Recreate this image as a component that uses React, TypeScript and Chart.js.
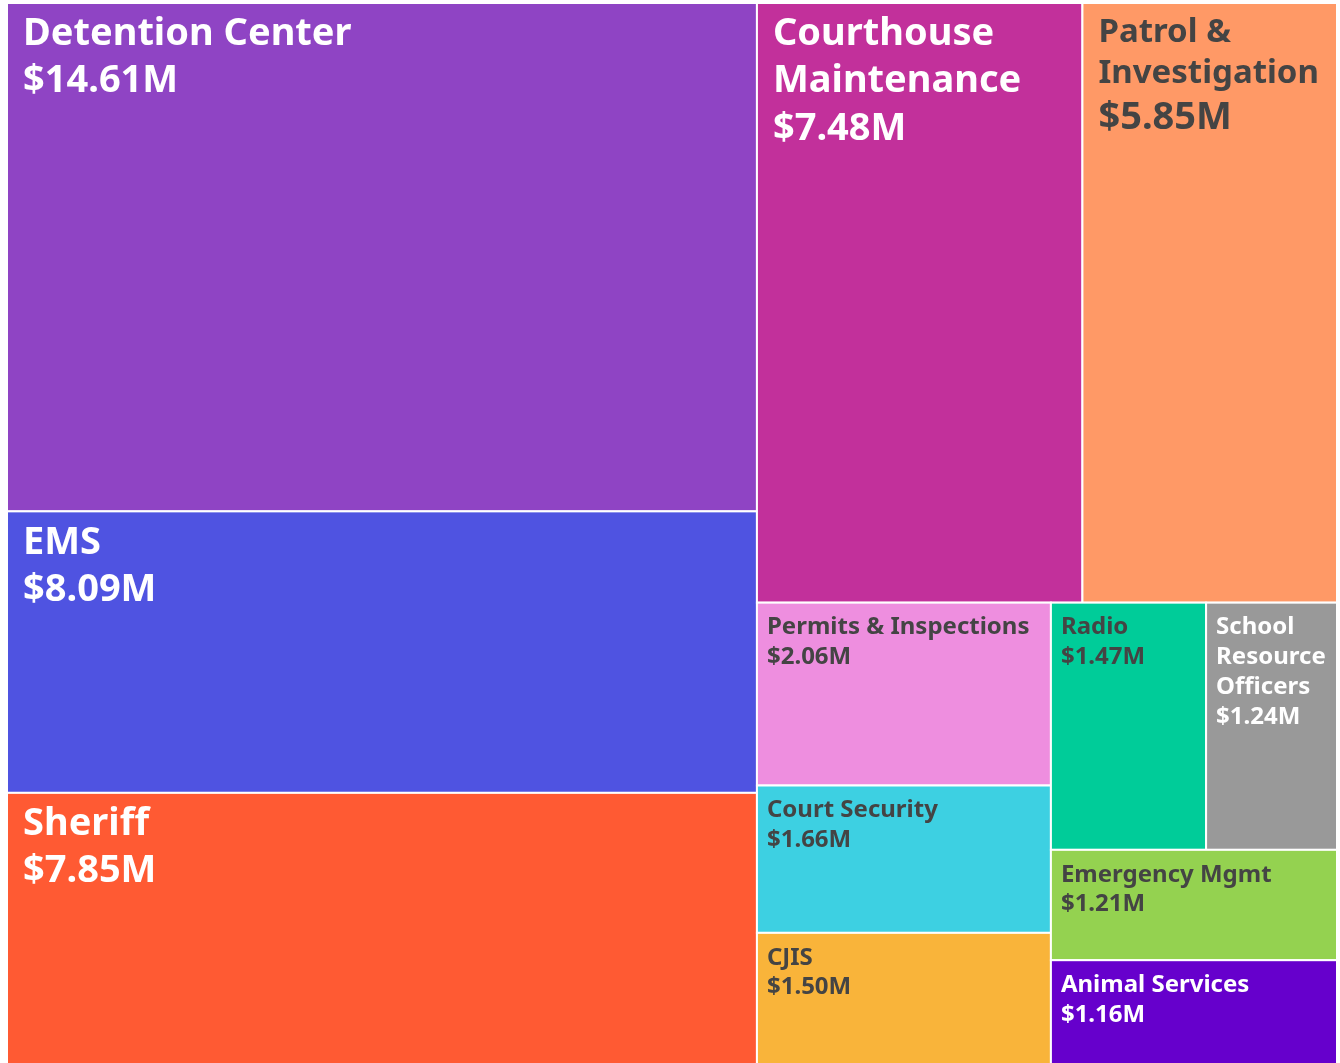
import React, { useEffect, useRef } from "react";
import { Chart, registerables } from "chart.js";

Chart.register(...registerables);

// ---- Data ----
const categories = [
  "Detention Center",
  "EMS",
  "Sheriff",
  "Courthouse Maintenance",
  "Patrol & Investigation",
  "Permits & Inspections",
  "Court Security",
  "CJIS",
  "Radio",
  "School Resource Officers",
  "Emergency Mgmt",
  "Animal Services",
];
const budgetMillions = [14.61, 8.09, 7.85, 7.48, 5.85, 2.06, 1.66, 1.5, 1.47, 1.24, 1.21, 1.16];
const valueLabels = budgetMillions.map((v) => `$${v.toFixed(2)}M`);

// ---- Styles ----
const tileColors = [
  "#8f44c4",
  "#4f53e1",
  "#ff5a33",
  "#c2309b",
  "#ff9966",
  "#ee8edf",
  "#3dd0e2",
  "#f9b43a",
  "#00cc99",
  "#999999",
  "#94d250",
  "#6600cc",
];
const textColors = [
  "#ffffff",
  "#ffffff",
  "#ffffff",
  "#ffffff",
  "#444444",
  "#444444",
  "#444444",
  "#444444",
  "#444444",
  "#ffffff",
  "#444444",
  "#ffffff",
];

const DOMAIN_W = 1330;
const DOMAIN_H = 1063;
const FONT_FAMILY = "'Comic Sans MS', 'Noto Sans', sans-serif";

type Rect = { x0: number; y0: number; x1: number; y1: number };

// d3-style squarified treemap (golden ratio)
function squarify(values: number[], W: number, H: number): Rect[] {
  const ratio = (1 + Math.sqrt(5)) / 2;
  const out: Rect[] = new Array(values.length);
  let x0 = 0, y0 = 0, x1 = W, y1 = H;
  let value = values.reduce((a, b) => a + b, 0);
  let i0 = 0, i1 = 0;
  const n = values.length;
  while (i0 < n) {
    const dx = x1 - x0, dy = y1 - y0;
    let sumValue = values[i1++];
    let minValue = sumValue, maxValue = sumValue;
    const alpha = Math.max(dy / dx, dx / dy) / (value * ratio);
    let beta = sumValue * sumValue * alpha;
    let minRatio = Math.max(maxValue / beta, beta / minValue);
    for (; i1 < n; ++i1) {
      const nv = values[i1];
      sumValue += nv;
      if (nv < minValue) minValue = nv;
      if (nv > maxValue) maxValue = nv;
      beta = sumValue * sumValue * alpha;
      const newRatio = Math.max(maxValue / beta, beta / minValue);
      if (newRatio > minRatio) {
        sumValue -= nv;
        break;
      }
      minRatio = newRatio;
    }
    const dice = dx < dy;
    if (dice) {
      const yy = y0 + (dy * sumValue) / value;
      let cx = x0;
      const k = (x1 - x0) / sumValue;
      for (let i = i0; i < i1; i++) {
        const w = values[i] * k;
        out[i] = { x0: cx, y0: y0, x1: cx + w, y1: yy };
        cx += w;
      }
      y0 = yy;
    } else {
      const xx = x0 + (dx * sumValue) / value;
      let cy = y0;
      const k = (y1 - y0) / sumValue;
      for (let i = i0; i < i1; i++) {
        const h = values[i] * k;
        out[i] = { x0: x0, y0: cy, x1: xx, y1: cy + h };
        cy += h;
      }
      x0 = xx;
    }
    value -= sumValue;
    i0 = i1;
  }
  return out;
}

function wrapWords(ctx: CanvasRenderingContext2D, text: string, maxW: number): string[] {
  const words = text.split(" ");
  const lines: string[] = [];
  let cur = "";
  for (const w of words) {
    const test = cur ? cur + " " + w : w;
    if (ctx.measureText(test).width <= maxW || !cur) cur = test;
    else {
      lines.push(cur);
      cur = w;
    }
  }
  if (cur) lines.push(cur);
  return lines;
}

const treemapPlugin = {
  id: "treemapTiles",
  afterDatasetsDraw(chart: any) {
    const { ctx, scales } = chart;
    const xs = scales.x, ys = scales.y;
    const rects: Rect[] = squarify(budgetMillions, DOMAIN_W, DOMAIN_H);
    rects.forEach((r, i) => {
      const ax = xs.getPixelForValue(r.x0), bx = xs.getPixelForValue(r.x1);
      const ay = ys.getPixelForValue(r.y0), by = ys.getPixelForValue(r.y1);
      const left = Math.min(ax, bx), right = Math.max(ax, bx);
      const top = Math.min(ay, by), bottom = Math.max(ay, by);
      const w = right - left, h = bottom - top;
      ctx.save();
      ctx.fillStyle = tileColors[i];
      ctx.fillRect(left, top, w, h);
      ctx.strokeStyle = "#ffffff";
      ctx.lineWidth = 2;
      ctx.strokeRect(left, top, w, h);

      // text
      const baseSize = Math.min(w, h) > 250 ? 38 : 24;
      const padX = Math.round(baseSize * 0.42);
      const avail = w - 2 * padX;
      let labelSize = baseSize;
      let lines: string[] = [];
      for (let s = baseSize; s >= 10; s--) {
        ctx.font = `bold ${s}px ${FONT_FAMILY}`;
        lines = wrapWords(ctx, categories[i], avail);
        const widest = Math.max(...lines.map((l) => ctx.measureText(l).width));
        labelSize = s;
        if (widest <= avail) break;
      }
      let valueSize = baseSize;
      for (let s = baseSize; s >= 10; s--) {
        ctx.font = `bold ${s}px ${FONT_FAMILY}`;
        valueSize = s;
        if (ctx.measureText(valueLabels[i]).width <= avail) break;
      }
      ctx.beginPath();
      ctx.rect(left + 1, top + 1, w - 2, h - 2);
      ctx.clip();
      ctx.fillStyle = textColors[i];
      ctx.textAlign = "left";
      ctx.textBaseline = "alphabetic";
      const padTop = Math.min(15, baseSize * 0.6);
      let yy = top + padTop + labelSize * 0.72;
      ctx.font = `bold ${labelSize}px ${FONT_FAMILY}`;
      for (const l of lines) {
        ctx.fillText(l, left + padX, yy);
        yy += labelSize * 1.24;
      }
      yy += (valueSize - labelSize) * 1.0;
      ctx.font = `bold ${valueSize}px ${FONT_FAMILY}`;
      ctx.fillText(valueLabels[i], left + padX, yy);
      ctx.restore();
    });
  },
};

export default function App() {
  const ref = useRef<HTMLCanvasElement | null>(null);
  useEffect(() => {
    document.body.style.margin = "0";
    const canvas = ref.current;
    if (!canvas) return;
    const rects = squarify(budgetMillions, DOMAIN_W, DOMAIN_H);
    const chart = new Chart(canvas, {
      type: "scatter",
      data: {
        datasets: [
          {
            label: "Budget",
            data: rects.map((r, i) => ({ x: (r.x0 + r.x1) / 2, y: (r.y0 + r.y1) / 2, v: budgetMillions[i] })) as any,
            pointRadius: 0,
            pointHoverRadius: 0,
          },
        ],
      },
      options: {
        animation: false,
        responsive: false,
        devicePixelRatio: 1,
        layout: { padding: 0 },
        plugins: { legend: { display: false }, tooltip: { enabled: false } },
        scales: {
          x: { type: "linear", min: -7, max: 1333, display: false },
          y: { type: "linear", min: -3, max: 1060, reverse: true, display: false },
        },
      },
      plugins: [treemapPlugin],
    });
    return () => chart.destroy();
  }, []);
  return (
    <div style={{ width: 1340, height: 1063, background: "#ffffff" }}>
      <canvas ref={ref} width={1340} height={1063} style={{ display: "block" }} />
    </div>
  );
}
